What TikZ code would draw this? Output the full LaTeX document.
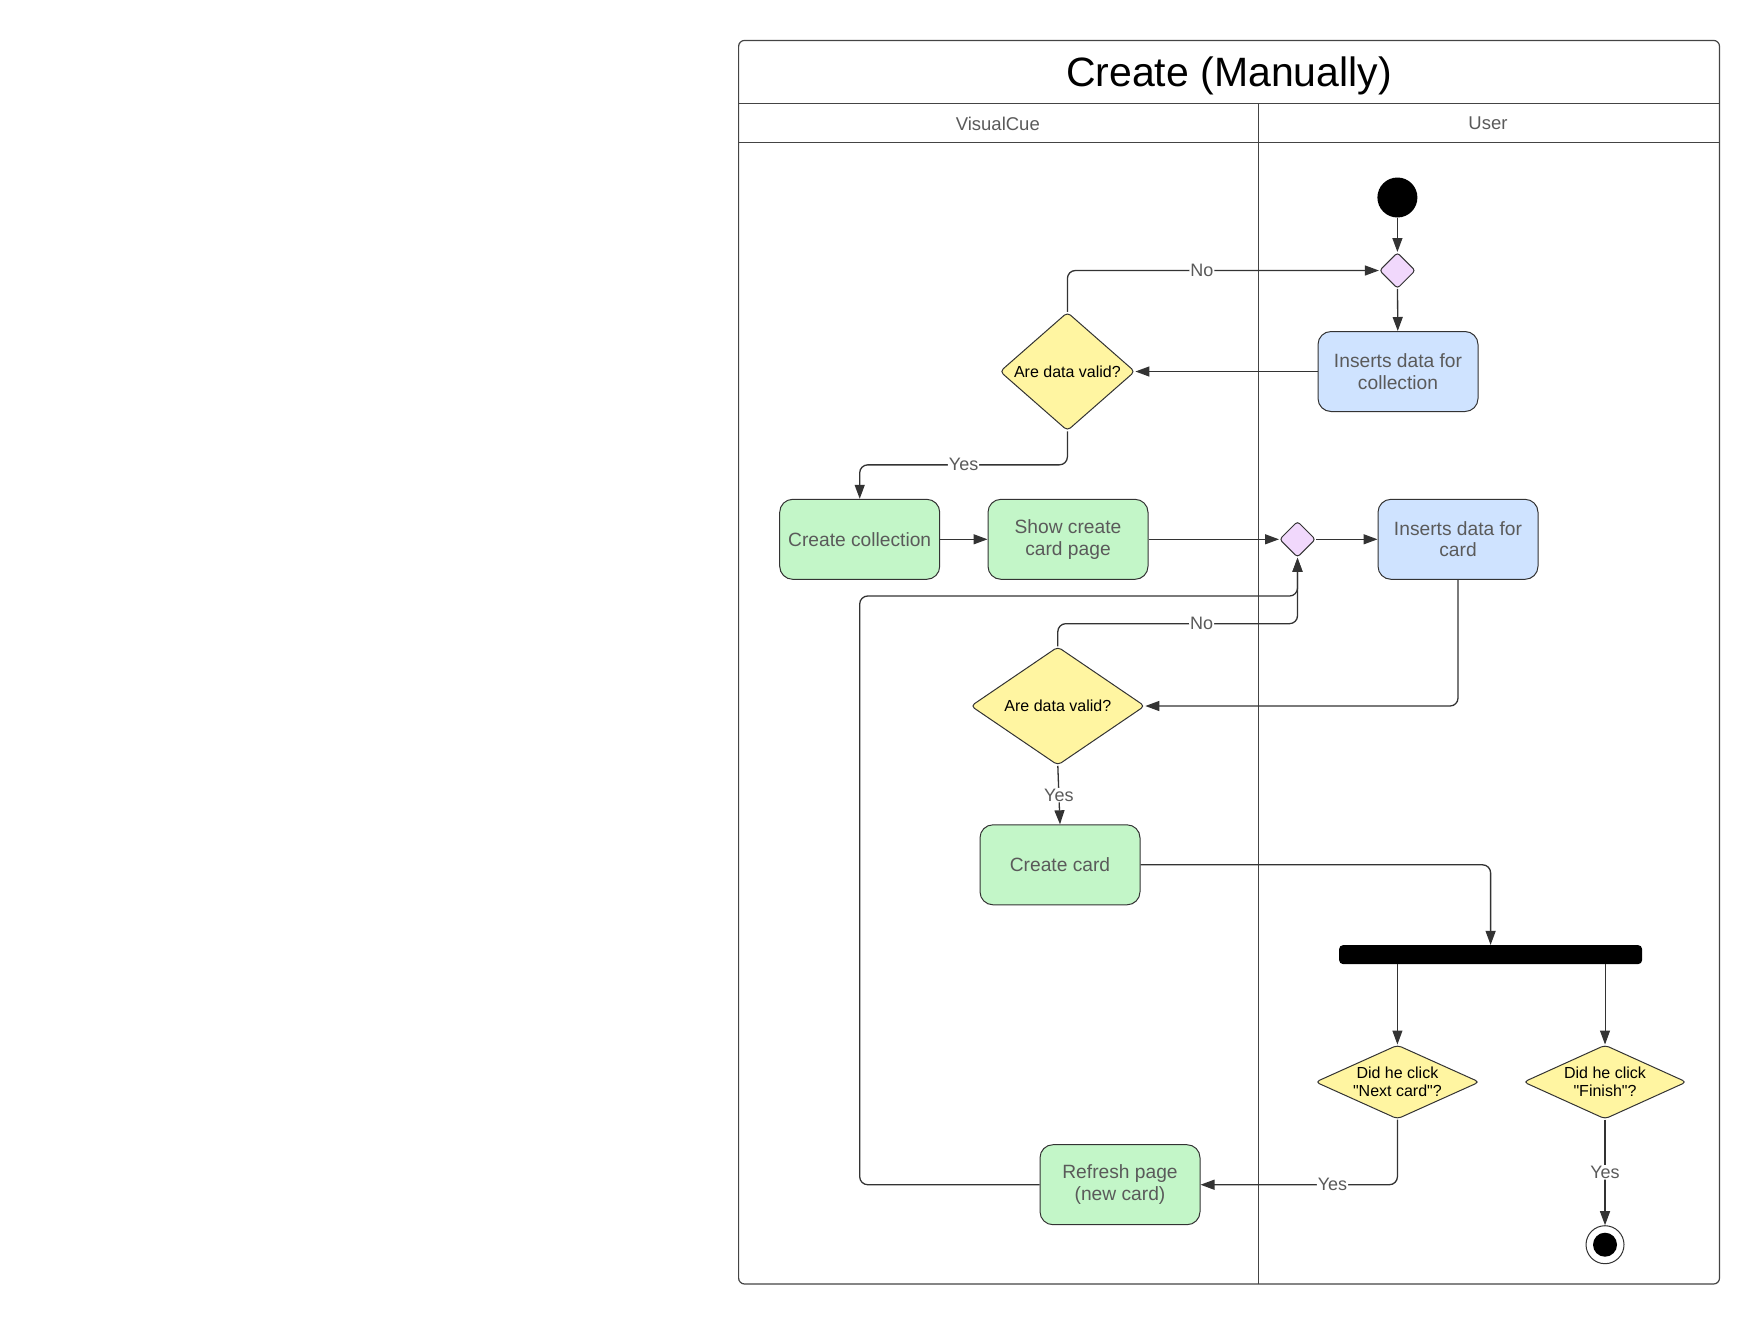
\documentclass[tikz,border=0pt]{standalone}
\usepackage{fontspec}
\setmainfont{Liberation Sans}
\newfontfamily\decfam[Ligatures=TeXOff]{Liberation Sans}
\usetikzlibrary{shapes.geometric,arrows.meta,positioning}
\definecolor{linec}{HTML}{333333}
\definecolor{framec}{HTML}{444444}
\definecolor{txtgray}{HTML}{5A5A5A}
\definecolor{gfill}{HTML}{C3F6C8}
\definecolor{bfill}{HTML}{CFE3FF}
\definecolor{yfill}{HTML}{FFF5A1}
\definecolor{pfill}{HTML}{F1D8FC}
\newcommand{\boxfnt}{\fontsize{19.2}{21.5}\selectfont}
\newcommand{\decfnt}{\decfam\fontsize{16}{18.5}\selectfont}
\newcommand{\lblfnt}{\fontsize{18}{21}\selectfont}
\tikzset{
  act/.style={rectangle, rounded corners=13pt, draw=linec, line width=1pt,
    minimum width=160pt, minimum height=80pt, inner sep=2pt, align=center,
    font=\boxfnt, text=txtgray},
  gact/.style={act, fill=gfill},
  bact/.style={act, fill=bfill},
  dec/.style={diamond, draw=linec, line width=1pt, fill=yfill, rounded corners=4pt,
    inner sep=0pt, align=center, font=\decfnt, text=black},
  mrg/.style={diamond, draw=linec, line width=1pt, fill=pfill, minimum width=36pt,
    minimum height=36pt, inner sep=0pt, rounded corners=3pt},
  arr/.style={draw=linec, line width=1.3pt, rounded corners=8pt,
    -{Triangle[length=14pt,width=10pt]}},
  lbl/.style={fill=white, inner sep=1pt, font=\lblfnt, text=txtgray},
  frame/.style={draw=framec, line width=1.2pt},
}
\begin{document}
\begin{tikzpicture}[x=1pt,y=-1pt]
\useasboundingbox (0,0) rectangle (1760,1326);
% swimlane frame
\draw[frame, rounded corners=6pt] (738.6,40.4) rectangle (1719.5,1284);
\draw[frame] (738.6,103.3) -- (1719.5,103.3);
\draw[frame] (738.6,142.5) -- (1719.5,142.5);
\draw[frame] (1258.2,103.3) -- (1258.2,1284);
\node[font=\fontsize{41}{48}\selectfont] (title) at (1229,75.5) {Create (Manually)};
\node[font=\fontsize{18.5}{21}\selectfont, text=txtgray] (lane1) at (997.8,123.5) {VisualCue};
\node[font=\fontsize{18.5}{21}\selectfont, text=txtgray] (lane2) at (1488,123.5) {User};

% nodes
\node[circle, fill=black, minimum size=40pt, inner sep=0pt] (start) at (1397.4,197.5) {};
\node[mrg] (m1) at (1397.4,270.5) {};
\node[bact] (idcol) at (1398,371.5) {Inserts data for\\collection};
\node[dec, minimum width=135pt, minimum height=115pt] (d1) at (1067.4,371.5) {Are data valid?};
\node[gact] (cc) at (859.7,539.3) {Create collection};
\node[gact] (scp) at (1068,539.3) {Show create\\card page};
\node[mrg] (m2) at (1297.5,539.3) {};
\node[bact] (idc) at (1458,539.3) {Inserts data for\\card};
\node[dec, minimum width=174pt, minimum height=117pt] (d2) at (1057.8,706) {Are data valid?};
\node[gact] (card) at (1060,864.8) {Create card};
\node[rectangle, fill=black, rounded corners=4pt, minimum width=303pt, minimum height=19pt, inner sep=0pt] (fork) at (1490.6,954.6) {};
\node[dec, shape aspect=2.3, minimum width=164pt, minimum height=74pt] (nx) at (1397.4,1082) {Did he click\\"Next card"?};
\node[dec, shape aspect=2.3, minimum width=163pt, minimum height=74pt] (fin) at (1605,1082) {Did he click\\"Finish"?};
\node[gact] (rp) at (1120,1184.7) {Refresh page\\(new card)};
\node[circle, draw=linec, line width=1pt, fill=white, minimum size=38pt, inner sep=0pt] (end) at (1605,1244.7) {};
\fill[black] (end.center) circle (12pt);
\coordinate (loop) at (859.7,596);

% connectors
\draw[arr] (start) -- (m1);
\draw[arr] (m1) -- (idcol);
\draw[arr] (idcol) -- (d1);
\draw[arr] (d1.north) |- node[lbl, pos=0.716] {No} (m1.west);
\draw[arr] (d1.south) -- ++(0,33.6) -| node[lbl, pos=0.25] {Yes} (cc.north);
\draw[arr] (cc) -- (scp);
\draw[arr] (scp) -- (m2);
\draw[arr] (m2) -- (idc);
\draw[arr] (idc.south) |- (d2.east);
\draw[arr] (d2.north) -- ++(0,-22.6) -| node[lbl, pos=0.3] {No} (m2.south);
\draw[arr] (d2.south) -- node[lbl] {Yes} (card.north);
\draw[arr] (card.east) -| (fork.north);
\draw[arr, line width=1pt] (fork.south -| nx.north) -- (nx.north);
\draw[arr, line width=1pt] (fork.south -| fin.north) -- (fin.north);
\draw[arr] (nx.south) |- node[lbl, pos=0.665] {Yes} (rp.east);
\draw[arr] (rp.west) -| (loop) -| (m2.south);
\draw[arr] (fin.south) -- node[lbl] {Yes} (end.north);
\end{tikzpicture}
\end{document}
